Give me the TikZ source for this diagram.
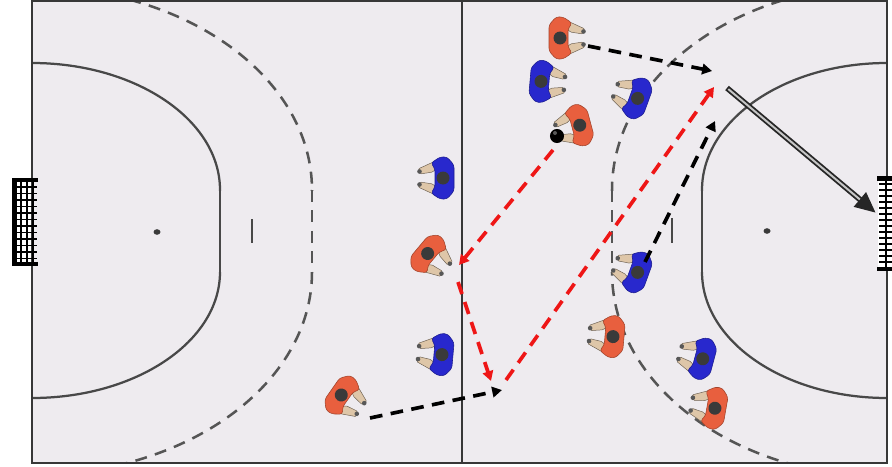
\documentclass[tikz,border=0pt]{standalone}
\usetikzlibrary{arrows.meta}

\definecolor{courtfill}{RGB}{238,235,239}
\definecolor{linegray}{RGB}{72,72,72}
\definecolor{bordergray}{RGB}{55,55,55}
\definecolor{dashgray}{RGB}{85,85,85}
\definecolor{teamred}{RGB}{232,95,62}
\definecolor{teamblue}{RGB}{40,40,205}
\definecolor{skin}{RGB}{222,198,168}
\definecolor{headgray}{RGB}{58,58,58}
\definecolor{passred}{RGB}{238,22,22}

\tikzset{
  courtline/.style={draw=linegray, line width=1.6pt},
  borderline/.style={draw=bordergray, line width=2pt},
  zoneline/.style={draw=dashgray, line width=1.8pt, dash pattern=on 8.5pt off 6pt},
  runarrow/.style={draw=black, line width=2.6pt, dash pattern=on 9pt off 6pt,
    -{Triangle[length=7pt,width=7.5pt]}},
  passarrow/.style={runarrow, draw=passred},
  netline/.style={draw=black, line width=1pt},
  armpart/.style={fill=skin, draw=skin!50!black, line width=0.35pt, rounded corners=1pt},
  % top-down player figure, facing +x before rotation
  pics/player/.style={code={
    % arms reaching forward
    \filldraw[armpart] (-6,-20) -- (18,-9) -- (16,-4) -- (3,-6) -- (-2,-12) -- cycle;
    \filldraw[armpart] (-6,20) -- (18,9) -- (16,4) -- (3,6) -- (-2,12) -- cycle;
    \fill[headgray!85] (16.5,-6.5) circle (2.3);
    \fill[headgray!85] (16.5,6.5) circle (2.3);
    % shirt with sleeves
    \filldraw[fill=#1, draw=#1!70!black, line width=0.4pt, rounded corners=2pt]
      (-18,-13) -- (-11,-21) -- (-4,-21) -- (5,-15) -- (1,-9) -- (1,9) -- (5,15)
      -- (-4,21) -- (-11,21) -- (-18,13) -- cycle;
    % head
    \fill[headgray] (-7,0) circle (6.5);
  }}
}

\begin{document}
\begin{tikzpicture}[x=0.025cm, y=-0.025cm]
\useasboundingbox (0,0) rectangle (892,466);
\fill[white] (0,0) rectangle (892,466);
\fill[courtfill] (32,0) rectangle (887,463);

% ---- left half: goal area and free-throw line
\begin{scope}
  \clip (32,0) rectangle (462,190);
  \draw[courtline] (32,190) ellipse [x radius=188, y radius=127];
  \draw[zoneline] (32,190) ellipse [x radius=280, y radius=203];
\end{scope}
\begin{scope}
  \clip (32,272) rectangle (462,463);
  \draw[courtline] (32,272) ellipse [x radius=188, y radius=126];
  \draw[zoneline] (32,272) ellipse [x radius=280, y radius=203];
\end{scope}
\draw[courtline] (220,189) -- (220,273);
\draw[zoneline] (312,190) -- (312,272);
\fill[headgray] (157,232) ellipse [x radius=3.5, y radius=2.8];
\draw[courtline, line width=1.8pt] (252,219) -- (252,243);

% ---- right half
\begin{scope}
  \clip (462,0) rectangle (887,190);
  \draw[courtline] (887,190) ellipse [x radius=185, y radius=127];
  \draw[zoneline] (887,190) ellipse [x radius=275, y radius=205];
\end{scope}
\begin{scope}
  \clip (462,272) rectangle (887,463);
  \draw[courtline] (887,272) ellipse [x radius=185, y radius=126];
  \draw[zoneline] (887,272) ellipse [x radius=275, y radius=205];
\end{scope}
\draw[courtline] (702,189) -- (702,273);
\draw[zoneline] (612,190) -- (612,272);
\fill[headgray] (767,231) ellipse [x radius=3.5, y radius=2.8];
\draw[courtline, line width=1.8pt] (672,218) -- (672,243);

% ---- boundary and centre line
\draw[borderline] (32,0) -- (32,463) -- (887,463) -- (887,0);
\draw[borderline, line width=1.3pt] (32,0.8) -- (887,0.8);
\draw[borderline] (462,0) -- (462,463);

% ---- left goal with net
\foreach \yy in {187,193.5,...,260} \draw[netline] (15,\yy) -- (37,\yy);
\foreach \xx in {21,27,33} \draw[netline] (\xx,181) -- (\xx,263);
\draw[black, line width=3pt] (38,180) -- (14.5,180) -- (14.5,264) -- (38,264);

% ---- right goal
\fill[white] (878,180) rectangle (892,268);
\foreach \yy in {184,190,...,264} \draw[netline, line width=0.9pt] (879,\yy) -- (892,\yy);
\draw[black, line width=1pt] (886,178) -- (886,269);
\draw[black, line width=3pt] (877,178.5) -- (892,178.5);
\draw[black, line width=3pt] (877,269) -- (892,269);

% ---- players
\pic[rotate=0]   (r1) at (567,38)  {player=teamred};
\pic[rotate=195] (r2) at (573,127) {player=teamred};
\pic[rotate=-40] (r3) at (433,258) {player=teamred};
\pic[rotate=-35] (r4) at (347,399) {player=teamred};
\pic[rotate=175] (r5) at (606,336) {player=teamred};
\pic[rotate=170] (r6) at (708,407) {player=teamred};
\pic[rotate=-5]  (b1) at (548,82)  {player=teamblue};
\pic[rotate=160] (b2) at (631,96)  {player=teamblue};
\pic[rotate=180] (b3) at (436,178) {player=teamblue};
\pic[rotate=175] (b4) at (435,354) {player=teamblue};
\pic[rotate=160] (b5) at (631,270) {player=teamblue};
\pic[rotate=165] (b6) at (696,357) {player=teamblue};

% ---- ball
\node[circle, fill=black, inner sep=0pt, minimum size=10pt] (ball) at (557,136) {};
\fill[white, opacity=0.35] (555,133) circle (2);

% ---- movement and passes
\coordinate (runAs) at (588,46);  \coordinate (runAe) at (712,71);
\coordinate (runBs) at (370,418); \coordinate (runBe) at (502,390);
\coordinate (runCs) at (645,262); \coordinate (runCe) at (715,121);
\coordinate (passAs) at (553,150); \coordinate (passAe) at (459,265);
\coordinate (passBs) at (458,282); \coordinate (passBe) at (491,381);
\coordinate (passCs) at (506,380); \coordinate (passCe) at (714,87);
\coordinate (shotS) at (727,88);   \coordinate (shotE) at (876,213);

\draw[runarrow] (runAs) -- (runAe);
\draw[runarrow] (runBs) -- (runBe);
\draw[runarrow] (runCs) -- (runCe);
\draw[passarrow] (passAs) -- (passAe);
\draw[passarrow] (passBs) -- (passBe);
\draw[passarrow] (passCs) -- (passCe);

% ---- shot on goal
\draw[black!85, line width=4pt, -{Triangle[length=15pt,width=12.5pt]}] (shotS) -- (shotE);
\draw[gray!45, line width=1.4pt, shorten <=1.2pt, shorten >=15pt] (shotS) -- (shotE);
\end{tikzpicture}
\end{document}
